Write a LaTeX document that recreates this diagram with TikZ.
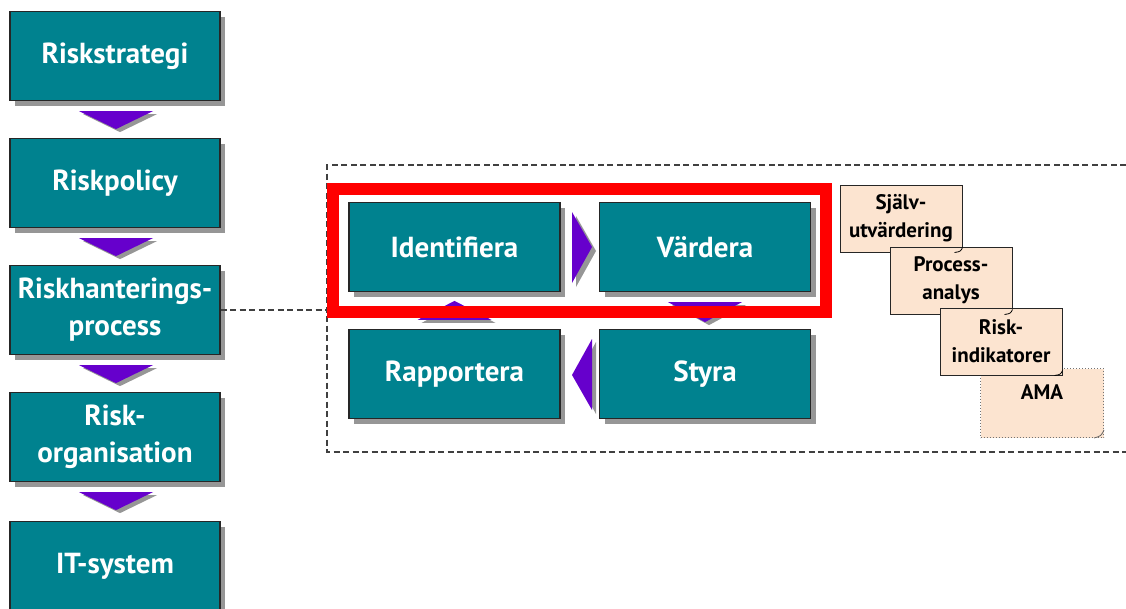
\documentclass[tikz,border=0pt]{standalone}
\usepackage{fontspec}
\setmainfont{PT Sans}
\usetikzlibrary{shadows,calc}
\definecolor{teal1}{RGB}{0,130,143}
\definecolor{purp}{RGB}{102,0,204}
\definecolor{peach}{RGB}{252,228,208}
\definecolor{shad}{RGB}{150,150,150}
\begin{document}
\begin{tikzpicture}[x=1pt,y=-1pt,
  box/.style={draw=black!85,line width=1.2pt,fill=teal1,text=white,font=\fontsize{29}{37}\selectfont\bfseries,
    align=center,inner sep=0pt,
    drop shadow={shadow xshift=5pt,shadow yshift=-5pt,fill=shad,opacity=1}},
  lbox/.style={box,minimum width=210pt,minimum height=89pt},
  ibox/.style={box,minimum width=211pt,minimum height=89pt},
  note/.style={draw=black!85,line width=1pt,fill=peach,text=black,font=\fontsize{21}{28}\selectfont\bfseries,
    align=center,minimum width=122pt,minimum height=67pt,inner sep=0pt},
  tri/.style={fill=purp},
  trishad/.style={fill=shad},
  dline/.style={draw=black!75,line width=1.1pt,dash pattern=on 6pt off 3.5pt}
]
\useasboundingbox (0,0) rectangle (1126,608);
% container
\coordinate (ct1) at (1126,165);
\coordinate (ct2) at (327,165);
\coordinate (ct3) at (327,452);
\coordinate (ct4) at (1126,452);
\draw[dline] (ct1) -- (ct2) -- (ct3) -- (ct4);

% left column
\node[lbox] (rs) at (115,56) {Riskstrategi};
\node[lbox] (rp) at (115,183) {Riskpolicy};
\node[lbox] (rh) at (115,310) {Riskhanterings-\\process};
\node[lbox] (ro) at (115,437) {Risk-\\organisation};
\node[lbox] (it) at (115,566) {IT-system};

\draw[dline] (rh.east) -- (ct2 |- rh.east);

% down triangles on left
\foreach \a/\b in {rs/rp,rp/rh,rh/ro,ro/it}{
  \coordinate (t1) at ($(\a.south)+(-36,10)$);
  \coordinate (t2) at ($(\a.south)+(38,10)$);
  \coordinate (t3) at ($(\a.south)+(1,28)$);
  \fill[trishad] ($(t1)+(4,3)$) -- ($(t2)+(4,3)$) -- ($(t3)+(4,3)$) -- cycle;
  \fill[tri] (t1) -- (t2) -- (t3) -- cycle;
}

% inner process
\node[ibox] (id) at (454.5,247) {Identifiera};
\node[ibox] (va) at (705,247) {Värdera};
\node[ibox] (ra) at (454.5,374) {Rapportera};
\node[ibox] (st) at (705,374) {Styra};

% right arrow id -> va
\fill[trishad] (576,216) -- (596,251) -- (576,287) -- cycle;
\fill[tri] (572,212) -- (592,247) -- (572,283) -- cycle;
% left arrow st -> ra
\fill[trishad] (596,342) -- (576,378) -- (596,414) -- cycle;
\fill[tri] (592,339) -- (572,375) -- (592,410) -- cycle;
% up arrow ra -> id
\fill[trishad] ($(ra.north)+(-33,-6)$) -- ($(ra.north)+(41,-6)$) -- ($(ra.north)+(4,-25)$) -- cycle;
\fill[tri] ($(ra.north)+(-37,-9)$) -- ($(ra.north)+(37,-9)$) -- ($(ra.north)+(0,-28)$) -- cycle;
% down arrow va -> st
\fill[trishad] ($(va.south)+(-33,13)$) -- ($(va.south)+(41,13)$) -- ($(va.south)+(4,33)$) -- cycle;
\fill[tri] ($(va.south)+(-37,10)$) -- ($(va.south)+(37,10)$) -- ($(va.south)+(0,30)$) -- cycle;

% red frame
\node[draw=red,line width=12pt,minimum width=493pt,minimum height=123pt,inner sep=0pt] (fr) at (579.5,250.5) {};

% notes
\node[note,draw=black!55,dotted,minimum width=123pt,minimum height=69pt,anchor=north west,text depth=22pt] (am) at (980,368) {AMA};
\draw[black!60,line width=0.8pt] ($(am.south east)+(-10,0)$) .. controls ($(am.south east)+(-3,-2)$) .. ($(am.south east)+(0,-8)$);
\node[note] (sj) at (901,218.5) {Själv-\\utvärdering};
\node[note] (pa) at (951,280.5) {Process-\\analys};
\node[note] (ri) at (1001,341.5) {Risk-\\indikatorer};
\foreach \n in {sj,pa,ri}{
  \draw[black,line width=0.8pt] ($(\n.south east)+(-8,0)$) .. controls ($(\n.south east)+(-2,-1)$) .. ($(\n.south east)+(0,-5)$);
}
\end{tikzpicture}
\end{document}
